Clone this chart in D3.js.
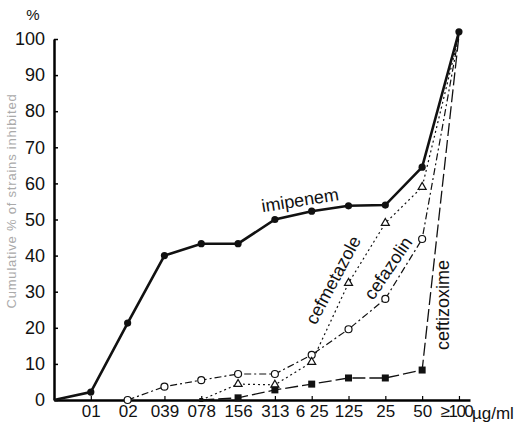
<!DOCTYPE html>
<html>
<head>
<meta charset="utf-8">
<script src="https://cdn.jsdelivr.net/npm/d3@7"></script>
<style>
  body { margin: 0; background: #fff; }
  text { font-family: "Liberation Sans", Arial, sans-serif; }
</style>
</head>
<body>
<div id="chart"></div>
<script>
// Categories (MIC, µg/ml) - index 0 is the origin
const categories = ["01", "02", "039", "078", "156", "313", "6 25", "125", "25", "50", "≥100"];
const yTicks = [0, 10, 20, 30, 40, 50, 60, 70, 80, 90, 100];

// Cumulative % of strains inhibited, one value per index 0..11 (null = not drawn)
const imipenem    = [0, 2.2, 21.3, 40, 43.3, 43.3, 50, 52.3, 53.8, 54, 64.5, 102];
const cefazolin   = [null, null, 0, 3.7, 5.5, 7.2, 7.2, 12.5, 19.6, 28, 44.6, 101];
const cefmetazole = [null, null, null, null, 0, 4.4, 4.2, 10.5, 32.4, 49, 59, 101];
const ceftizoxime = [null, null, null, null, 0, 0.6, 2.8, 4.4, 6.1, 6.1, 8.3, 101];

const width = 525, height = 424;

const svg = d3.select("#chart")
  .append("svg")
  .attr("width", width)
  .attr("height", height);

// Scales
const x = d3.scaleLinear().domain([0, 11.3]).range([54, 470]);
const y = d3.scaleLinear().domain([0, 100]).range([400, 39]);

// Y axis
const yAxis = svg.append("g")
  .attr("transform", `translate(${x(0)},0)`)
  .call(d3.axisLeft(y).tickValues(yTicks).tickSizeInner(-4).tickSizeOuter(0).tickPadding(9));
yAxis.select(".domain").attr("stroke-width", 2.5);
yAxis.selectAll(".tick line").attr("stroke-width", 1.5);
yAxis.selectAll("text").attr("font-size", 18).attr("fill", "#111");

// X axis
const xAxis = svg.append("g")
  .attr("transform", `translate(0,${y(0)})`)
  .call(d3.axisBottom(x).tickValues(d3.range(1, 12))
    .tickFormat(i => categories[i - 1])
    .tickSizeInner(-4).tickSizeOuter(0).tickPadding(5));
xAxis.select(".domain").attr("stroke-width", 2.5);
xAxis.selectAll(".tick line").attr("stroke-width", 1.2);
xAxis.selectAll("text").attr("font-size", 17).attr("fill", "#111");
// the last label sits tight against the unit
xAxis.selectAll(".tick text")
  .filter(i => i === 11)
  .attr("letter-spacing", -1.5)
  .attr("dx", -3);

svg.append("text")
  .attr("x", x(11) + 13)
  .attr("y", y(0) + 19)
  .attr("font-size", 17)
  .attr("fill", "#111")
  .text("µg/ml");

// Axis titles
svg.append("text")
  .attr("x", 33)
  .attr("y", 20)
  .attr("text-anchor", "middle")
  .attr("font-size", 15)
  .attr("fill", "#111")
  .text("%");

svg.append("text")
  .attr("transform", "translate(16,201) rotate(-90)")
  .attr("text-anchor", "middle")
  .attr("font-size", 13)
  .attr("letter-spacing", 0.8)
  .attr("fill", "#aaa")
  .text("Cumulative % of strains inhibited");

// Line generator
const line = d3.line()
  .defined(d => d != null)
  .x((d, i) => x(i))
  .y(d => y(d));

const series = [
  {name: "cefmetazole", values: cefmetazole, dash: "2,3", width: 1.2},
  {name: "cefazolin", values: cefazolin, dash: "7,3,2,3", width: 1.2},
  {name: "ceftizoxime", values: ceftizoxime, dash: "13,4", width: 1.3},
  {name: "imipenem", values: imipenem, dash: null, width: 2.6}
];

series.forEach(s => {
  svg.append("path")
    .datum(s.values)
    .attr("fill", "none")
    .attr("stroke", "#111")
    .attr("stroke-width", s.width)
    .attr("stroke-dasharray", s.dash)
    .attr("d", line);
});

// Markers (skip origin and the final convergence point for the others)
const pts = (vals, from, to) => vals.map((v, i) => ({v, i}))
  .filter(d => d.v != null && d.i >= from && d.i <= to);

svg.selectAll(".imi")
  .data(pts(imipenem, 1, 11))
  .enter().append("circle")
  .attr("cx", d => x(d.i))
  .attr("cy", d => y(d.v))
  .attr("r", 3.6)
  .attr("fill", "#111");

svg.selectAll(".cfz")
  .data(pts(cefazolin, 2, 10))
  .enter().append("circle")
  .attr("cx", d => x(d.i))
  .attr("cy", d => y(d.v))
  .attr("r", 3.5)
  .attr("fill", "#fff")
  .attr("stroke", "#111")
  .attr("stroke-width", 1.2);

svg.selectAll(".cmz")
  .data(pts(cefmetazole, 5, 10))
  .enter().append("path")
  .attr("transform", d => `translate(${x(d.i)},${y(d.v)})`)
  .attr("d", d3.symbol(d3.symbolTriangle, 28))
  .attr("fill", "#fff")
  .attr("stroke", "#111")
  .attr("stroke-width", 1.2);

svg.selectAll(".czx")
  .data(pts(ceftizoxime, 4, 10))
  .enter().append("rect")
  .attr("x", d => x(d.i) - (d.v === 0 ? 2 : 3.5))
  .attr("y", d => y(d.v) - (d.v === 0 ? 2 : 3.5))
  .attr("width", d => d.v === 0 ? 4 : 7)
  .attr("height", d => d.v === 0 ? 4 : 7)
  .attr("fill", "#111");

// Series labels
const labels = [
  {text: "imipenem", x: 300, y: 200, angle: -9},
  {text: "cefmetazole", x: 333, y: 280, angle: -62},
  {text: "cefazolin", x: 388, y: 268, angle: -56},
  {text: "ceftizoxime", x: 443, y: 305, angle: -90}
];

labels.forEach(l => {
  svg.append("text")
    .attr("transform", `translate(${l.x},${l.y}) rotate(${l.angle})`)
    .attr("text-anchor", "middle")
    .attr("dy", "0.35em")
    .attr("font-size", 18)
    .attr("fill", "#111")
    .text(l.text);
});
</script>
</body>
</html>
